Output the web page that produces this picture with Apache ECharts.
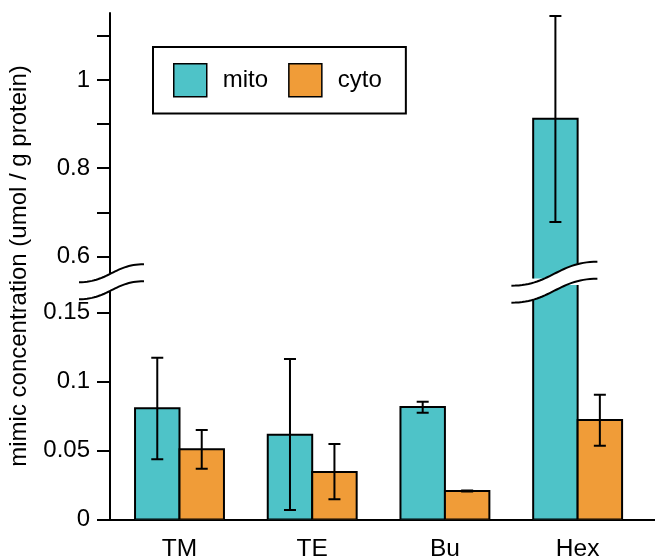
<!DOCTYPE html>
<html><head><meta charset="utf-8">
<script src="https://cdn.jsdelivr.net/npm/echarts@6/dist/echarts.min.js"></script>
<style>html,body{margin:0;padding:0;background:#fff}#c{width:655px;height:558px}</style>
</head><body><div id="c"></div>
<script>
// ---- data ----
const categories = ['TM', 'TE', 'Bu', 'Hex'];
const seriesNames = ['mito', 'cyto'];
const mitoValues = [0.0806, 0.0615, 0.0815, 0.912];
const mitoLow    = [0.0436, 0.0069, 0.0774, 0.678];
const mitoHigh   = [0.1172, 0.1163, 0.0854, 1.145];
const cytoValues = [0.0509, 0.0344, 0.0207, 0.0721];
const cytoLow    = [0.0368, 0.0146, 0.0203, 0.0535];
const cytoHigh   = [0.0649, 0.0547, 0.0211, 0.0904];
const lowerTicks = [0, 0.05, 0.1, 0.15];
const upperLabels = [0.6, 0.8, 1];
const upperTicks = [0.6, 0.7, 0.8, 0.9, 1, 1.1];
const yTitle = 'mimic concentration (umol / g protein)';

// ---- style ----
const FONT = 'Liberation Sans, Arial, sans-serif';
const MITO = '#4ec3c8';
const CYTO = '#f09c38';
const BAR_W = 0.335;
const X_RANGE = [-0.5237, 3.583];
const LOWER_RANGE = [0, 0.17];
const UPPER_RANGE = [0.55, 1.152];

const chart = echarts.init(document.getElementById('c'), null, {renderer: 'canvas'});

function makeRender(side, color) {
  return function (params, api) {
    const i = api.value(0), v = api.value(1), lo = api.value(2), hi = api.value(3);
    const xa = side < 0 ? i - BAR_W : i;
    const xb = side < 0 ? i : i + BAR_W;
    const p0 = api.coord([xa, 0]);
    const p1 = api.coord([xb, v]);
    const xc = (p0[0] + p1[0]) / 2;
    const yLo = api.coord([i, lo])[1], yHi = api.coord([i, hi])[1];
    const cap = 6;
    const ls = {stroke: '#000', lineWidth: 2};
    return {type: 'group', children: [
      {type: 'rect', shape: {x: p0[0], y: p1[1], width: p1[0] - p0[0], height: p0[1] - p1[1]},
        style: {fill: color, stroke: '#000', lineWidth: 2}},
      {type: 'line', shape: {x1: xc, y1: yLo, x2: xc, y2: yHi}, style: ls},
      {type: 'line', shape: {x1: xc - cap, y1: yHi, x2: xc + cap, y2: yHi}, style: ls},
      {type: 'line', shape: {x1: xc - cap, y1: yLo, x2: xc + cap, y2: yLo}, style: ls}
    ]};
  };
}
function rows(vals, lo, hi) { return categories.map((c, i) => [i, vals[i], lo[i], hi[i]]); }

const yAxisCommon = {
  type: 'value',
  axisLine: {show: true, onZero: false, lineStyle: {color: '#000', width: 2}},
  splitLine: {show: false},
  axisTick: {show: true, length: 13, lineStyle: {color: '#000', width: 2}},
  axisLabel: {fontSize: 24, color: '#000', fontFamily: FONT, margin: 20}
};

chart.setOption({
  animation: false,
  backgroundColor: '#fff',
  grid: [
    {left: 110, right: 0, top: 13, height: 265.5, outerBoundsMode: 'none', containLabel: false},
    {left: 110, right: 0, top: 284.9, bottom: 38.5, outerBoundsMode: 'none', containLabel: false}
  ],
  xAxis: [
    {gridIndex: 0, type: 'value', min: X_RANGE[0], max: X_RANGE[1], show: false},
    {gridIndex: 1, type: 'value', min: X_RANGE[0], max: X_RANGE[1],
      axisLine: {show: true, onZero: false, lineStyle: {color: '#000', width: 2}},
      axisTick: {show: false}, splitLine: {show: false},
      axisLabel: {customValues: [0, 1, 2, 3], formatter: v => categories[Math.round(v)],
        fontSize: 24.5, color: '#000', fontFamily: FONT, margin: 17}}
  ],
  yAxis: [
    Object.assign({}, yAxisCommon, {gridIndex: 0, min: UPPER_RANGE[0], max: UPPER_RANGE[1],
      axisTick: Object.assign({}, yAxisCommon.axisTick, {customValues: upperTicks}),
      axisLabel: Object.assign({}, yAxisCommon.axisLabel, {customValues: upperLabels})}),
    Object.assign({}, yAxisCommon, {gridIndex: 1, min: LOWER_RANGE[0], max: LOWER_RANGE[1],
      axisTick: Object.assign({}, yAxisCommon.axisTick, {customValues: lowerTicks}),
      axisLabel: Object.assign({}, yAxisCommon.axisLabel, {customValues: lowerTicks})})
  ],
  legend: {
    data: [
      {name: seriesNames[0], icon: 'rect', itemStyle: {color: MITO, borderColor: '#000', borderWidth: 1.5}},
      {name: seriesNames[1], icon: 'rect', itemStyle: {color: CYTO, borderColor: '#000', borderWidth: 1.5}}
    ],
    left: 153, top: 47, orient: 'horizontal',
    padding: [16, 24, 16, 20], itemWidth: 33, itemHeight: 33, itemGap: 20,
    borderColor: '#000', borderWidth: 2, backgroundColor: '#fff',
    textStyle: {fontSize: 24, color: '#000', fontFamily: FONT, padding: [0, 0, 0, 11]},
    selectedMode: false, z: 20
  },
  series: [
    {name: seriesNames[0], type: 'custom', xAxisIndex: 1, yAxisIndex: 1, clip: true,
      itemStyle: {color: MITO}, renderItem: makeRender(-1, MITO),
      encode: {x: 0, y: 1}, data: rows(mitoValues, mitoLow, mitoHigh)},
    {name: seriesNames[1], type: 'custom', xAxisIndex: 1, yAxisIndex: 1, clip: true,
      itemStyle: {color: CYTO}, renderItem: makeRender(1, CYTO),
      encode: {x: 0, y: 1}, data: rows(cytoValues, cytoLow, cytoHigh)},
    {name: seriesNames[0], type: 'custom', xAxisIndex: 0, yAxisIndex: 0, clip: true,
      itemStyle: {color: MITO}, renderItem: makeRender(-1, MITO),
      encode: {x: 0, y: 1}, data: rows(mitoValues, mitoLow, mitoHigh)}
  ]
});

// break marks (sampled S-curves)
function sCurve(x0, x1, c, A) {
  const w = x1 - x0;
  const P0 = [x0, c + A], P1 = [x0 + 0.45 * w, c + A], P2 = [x1 - 0.45 * w, c - A], P3 = [x1, c - A];
  const pts = [];
  for (let k = 0; k <= 30; k++) {
    const t = k / 30, u = 1 - t;
    const b0 = u * u * u, b1 = 3 * u * u * t, b2 = 3 * u * t * t, b3 = t * t * t;
    pts.push([b0 * P0[0] + b1 * P1[0] + b2 * P2[0] + b3 * P3[0], b0 * P0[1] + b1 * P1[1] + b2 * P2[1] + b3 * P3[1]]);
  }
  return pts;
}
function breakMark(cx, cy, x0, x1, A, sep) {
  const up = sCurve(x0, x1, -sep / 2, A);
  const lo = sCurve(x0, x1, sep / 2, A);
  return {type: 'group', x: cx, y: cy, children: [
    {type: 'polygon', z: 100, shape: {points: up.concat(lo.slice().reverse())}, style: {fill: '#fff', stroke: '#fff', lineWidth: 0.5}},
    {type: 'polyline', z: 101, shape: {points: up}, style: {fill: null, stroke: '#000', lineWidth: 2}},
    {type: 'polyline', z: 101, shape: {points: lo}, style: {fill: null, stroke: '#000', lineWidth: 2}}
  ]};
}
const axisX = chart.convertToPixel({xAxisIndex: 1}, X_RANGE[0]);
const hexX = chart.convertToPixel({xAxisIndex: 1}, 3 - BAR_W / 2);
const upperBottom = chart.convertToPixel({yAxisIndex: 0}, UPPER_RANGE[0]);
const lowerTop = chart.convertToPixel({yAxisIndex: 1}, LOWER_RANGE[1]);
const midY = (upperBottom + lowerTop) / 2;

chart.setOption({
  graphic: [
    breakMark(axisX, midY, -31, 34, 9, 17),
    breakMark(hexX, midY + 0.5, -44, 42, 12, 17),
    {type: 'text', x: 19.5, y: 266, rotation: Math.PI / 2, z: 50,
      style: {text: yTitle, fontSize: 24, fontFamily: FONT, fill: '#000', align: 'center', verticalAlign: 'middle'}}
  ]
});
</script>
</body></html>
